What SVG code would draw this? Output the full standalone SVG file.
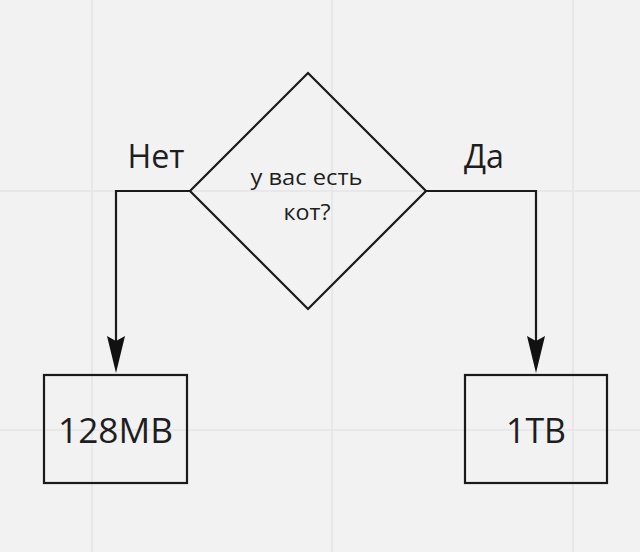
<svg xmlns="http://www.w3.org/2000/svg" width="640" height="552" viewBox="0 0 640 552">
<defs>
<style>
.grid{stroke:#e4e4e4;stroke-width:1.5;fill:none}
.shape{fill:none;stroke:#1a1a1a;stroke-width:2.2}
.conn{fill:none;stroke:#1a1a1a;stroke-width:2.2}
.head{fill:#111}
.t{font-family:"Open Sans","Noto Sans",sans-serif;fill:#1e1e1e;text-anchor:middle}
</style>
</defs>
<rect width="640" height="552" fill="#f2f2f2"/>
<g id="grid">
<line class="grid" x1="92" y1="0" x2="92" y2="552"/>
<line class="grid" x1="332" y1="0" x2="332" y2="552"/>
<line class="grid" x1="573" y1="0" x2="573" y2="552"/>
<line class="grid" x1="0" y1="191" x2="640" y2="191"/>
<line class="grid" x1="0" y1="430" x2="640" y2="430"/>
</g>
<g id="connectors">
<polyline class="conn" points="190,191 116,191 116,345"/>
<polygon class="head" points="107,336 116,341 125,336 116,373"/>
<polyline class="conn" points="426,191 536,191 536,345"/>
<polygon class="head" points="527,336 536,341 545,336 536,373"/>
<text class="t" x="156" y="168" font-size="33" textLength="57" lengthAdjust="spacingAndGlyphs">Нет</text>
<text class="t" x="484" y="168" font-size="33" textLength="40" lengthAdjust="spacingAndGlyphs">Да</text>
</g>
<g id="decision">
<polygon class="shape" points="308,73 426,191 308,309 190,191"/>
<text class="t" x="306.5" y="185" font-size="22.5" textLength="112" lengthAdjust="spacingAndGlyphs">у вас есть</text>
<text class="t" x="307" y="220" font-size="22.5" textLength="47" lengthAdjust="spacingAndGlyphs">кот?</text>
</g>
<g id="box-128mb">
<rect class="shape" x="44" y="375" width="143" height="108"/>
<text class="t" x="115.5" y="443" font-size="34" textLength="115" lengthAdjust="spacingAndGlyphs">128MB</text>
</g>
<g id="box-1tb">
<rect class="shape" x="465" y="375" width="142" height="108"/>
<text class="t" x="536" y="443" font-size="34" textLength="60" lengthAdjust="spacingAndGlyphs">1TB</text>
</g>
</svg>
